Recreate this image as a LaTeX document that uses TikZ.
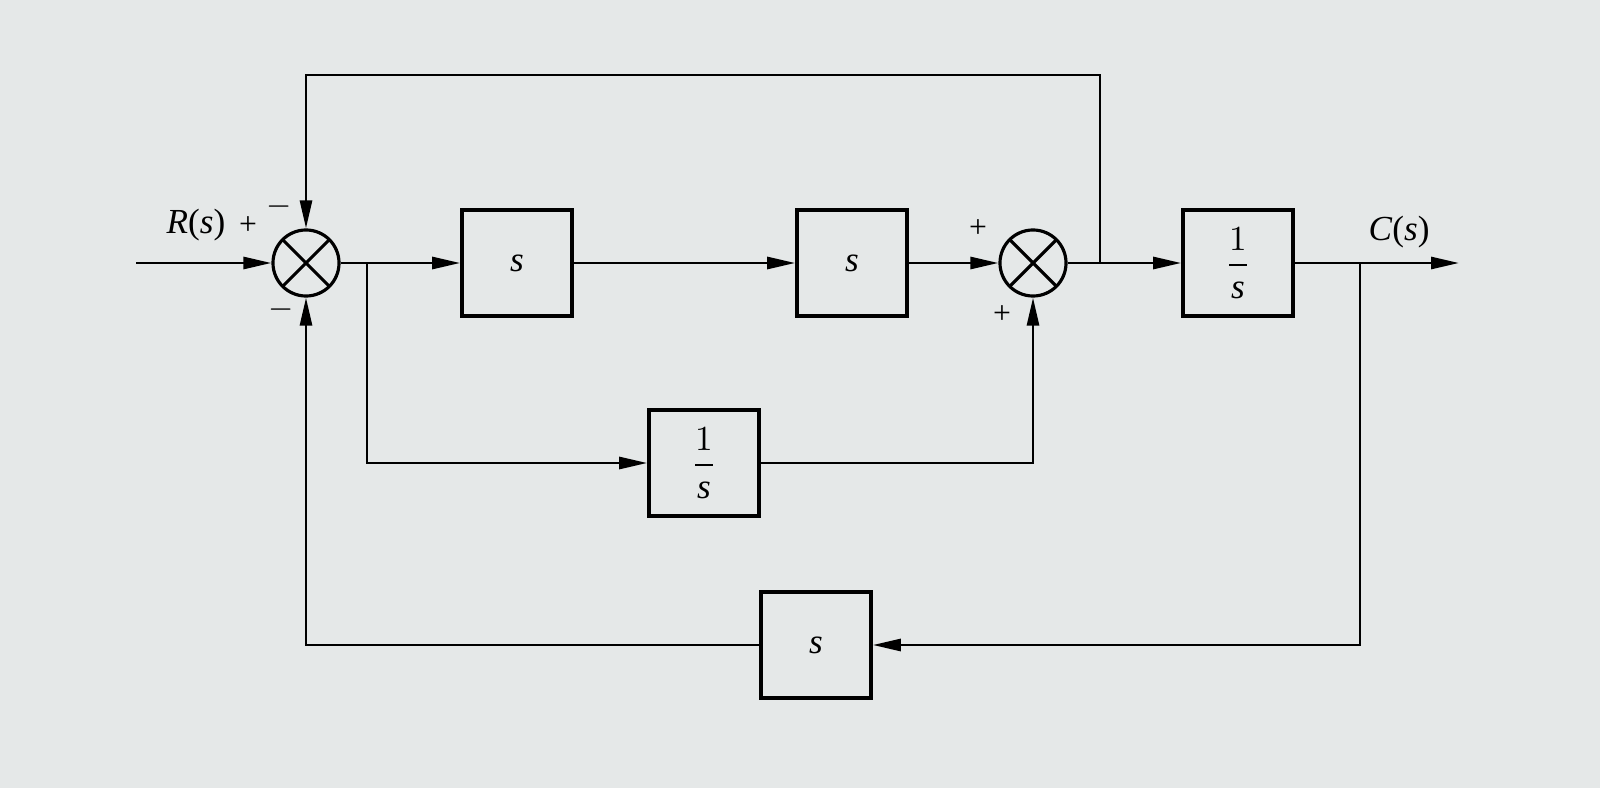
\documentclass[tikz,border=0pt]{standalone}
\usepackage{fontspec}
\setmainfont{Liberation Serif}
\usetikzlibrary{arrows.meta, positioning, calc}
\definecolor{paper}{RGB}{229,232,232}

\begin{document}
\begin{tikzpicture}[x=0.01cm, y=-0.01cm,
    block/.style={rectangle, draw, line width=1pt, minimum width=1.1cm, minimum height=1.06cm, inner sep=0pt},
    sumjunc/.style={circle, draw, line width=0.9pt, minimum size=0.66cm, inner sep=0pt,
        path picture={\draw[line width=0.9pt] (path picture bounding box.north west) -- (path picture bounding box.south east)
            (path picture bounding box.south west) -- (path picture bounding box.north east);}},
    sign/.style={inner sep=1pt, font=\small},
    arrow/.style={draw, line width=0.8pt, -{Triangle[length=0.28cm, width=0.12cm]}}
]

% Background
\fill[paper] (0,0) rectangle (1600,788);

% Main row
\node[sumjunc] (sum1) at (306,263) {};
\node[block] (gain1) at (517,263) {$\mathit{s}$};
\node[block] (gain2) at (852,263) {$\mathit{s}$};
\node[sumjunc] (sum2) at (1033,263) {};
\node[block] (integ2) at (1238,263) {$\displaystyle\frac{1}{\mathit{s}}$};

% Lower blocks
\node[block] (integ1) at (704,463) {$\displaystyle\frac{1}{\mathit{s}}$};
\node[block] (deriv) at (816,645) {$\mathit{s}$};

% Branch points
\coordinate (inL) at (136,263);
\coordinate (outR) at (1459,263);
\coordinate (split1) at (367,263);
\coordinate (split2) at (1100,263);
\coordinate (split3) at (1360,263);
\coordinate (topR) at (1100,75);
\coordinate (topL) at (306,75);

% Connectors
\draw[arrow] (inL) -- (sum1);
\draw[arrow] (sum1) -- (gain1);
\draw[arrow] (gain1) -- (gain2);
\draw[arrow] (gain2) -- (sum2);
\draw[arrow] (sum2) -- (integ2);
\draw[arrow] (integ2) -- (outR);
\draw[arrow] (split1) |- (integ1);
\draw[arrow] (integ1) -| (sum2);
\draw[arrow] (split3) |- (deriv);
\draw[arrow] (deriv) -| (sum1);
\draw[arrow] (split2) -- (topR) -- (topL) -- (sum1);

% Labels
\node (rlabel) at (196,225) {\textit{R}(\textit{s})};
\node (clabel) at (1399,232) {\textit{C}(\textit{s})};
\node[sign] (p1) at (248,226) {+};
\node[sign] (m1) at (279,207) {$-$};
\node[sign] (m2) at (281,310) {$-$};
\node[sign] (p2) at (978,229) {+};
\node[sign] (p3) at (1002,315) {+};

\end{tikzpicture}
\end{document}
